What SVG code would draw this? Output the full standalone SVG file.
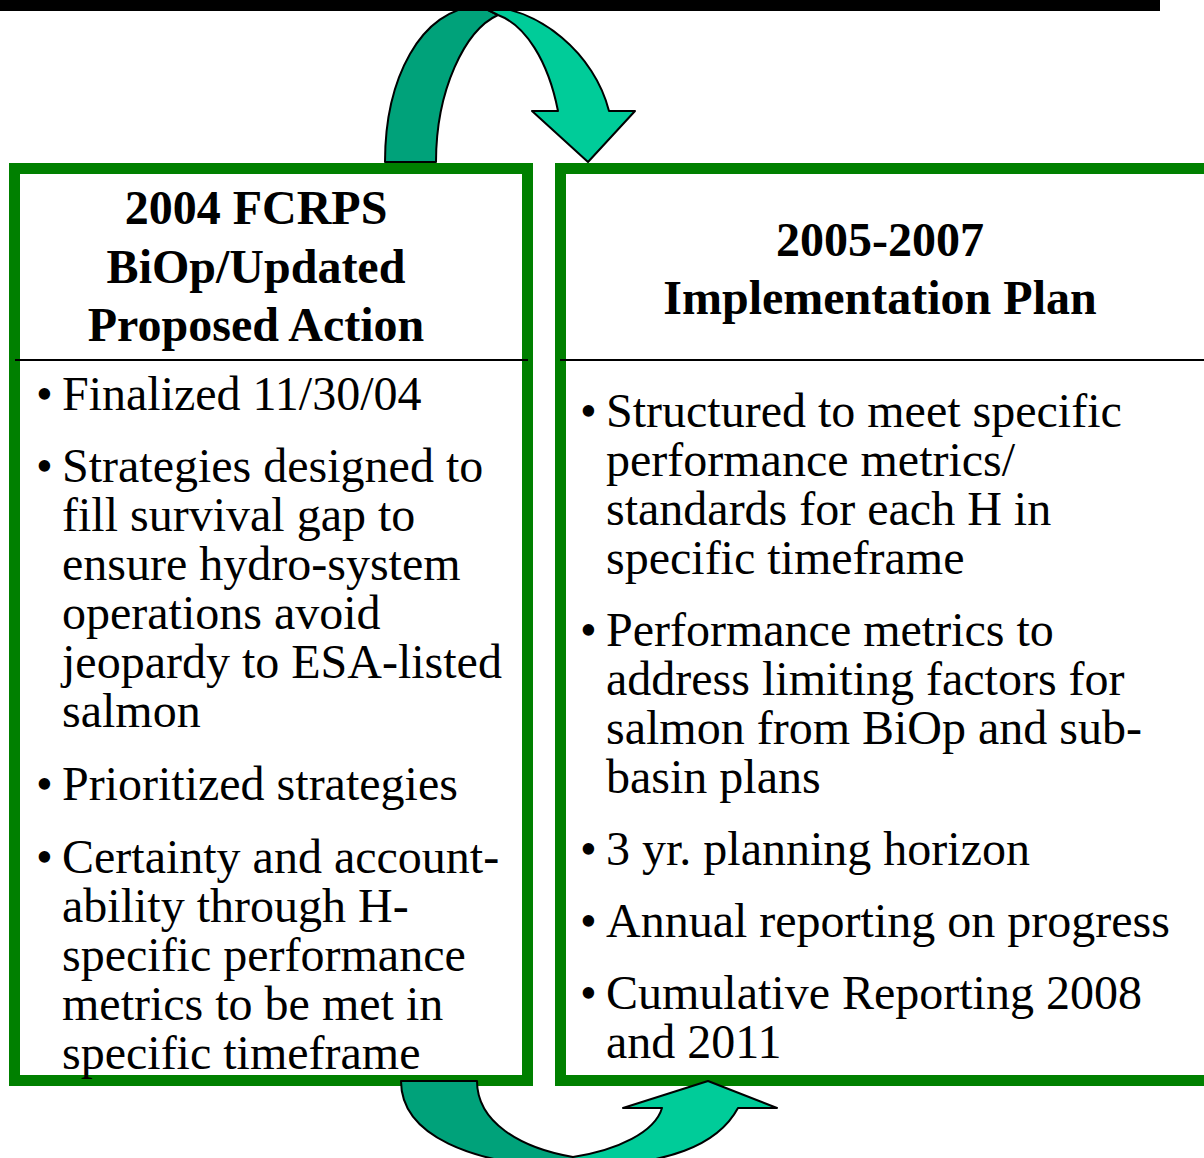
<svg xmlns="http://www.w3.org/2000/svg" width="1204" height="1158" viewBox="0 0 1204 1158">
<style>
.box{fill:#fff;stroke:#008000;stroke-width:11}
.div{stroke:#000;stroke-width:2}
.hd{font-family:"Liberation Serif","Times New Roman",serif;font-weight:bold;font-size:48px;fill:#000;text-anchor:middle}
.bd{font-family:"Liberation Serif","Times New Roman",serif;font-size:48px;fill:#000}
.dk{fill:#00a27a;stroke:#000;stroke-width:2;stroke-linejoin:round}
.lt{fill:#00cc99;stroke:#000;stroke-width:2;stroke-linejoin:round}
</style>
<rect x="0" y="0" width="1204" height="1158" fill="#fff"/>
<g id="left-box">
<rect class="box" x="14.5" y="168.5" width="513" height="912"/>
<line class="div" x1="15" y1="360" x2="528" y2="360"/>
<text class="hd" x="256" y="224">2004 FCRPS</text>
<text class="hd" x="256" y="283">BiOp/Updated</text>
<text class="hd" x="256" y="341">Proposed Action</text>
<text class="bd" x="36" y="410">•</text><text class="bd" x="62" y="410">Finalized 11/30/04</text>
<text class="bd" x="36" y="482">•</text>
<text class="bd" x="62" y="482">Strategies designed to</text>
<text class="bd" x="62" y="531">fill survival gap to</text>
<text class="bd" x="62" y="580">ensure hydro-system</text>
<text class="bd" x="62" y="629">operations avoid</text>
<text class="bd" x="62" y="678">jeopardy to ESA-listed</text>
<text class="bd" x="62" y="727">salmon</text>
<text class="bd" x="36" y="800">•</text><text class="bd" x="62" y="800">Prioritized strategies</text>
<text class="bd" x="36" y="873">•</text>
<text class="bd" x="62" y="873">Certainty and account-</text>
<text class="bd" x="62" y="922">ability through H-</text>
<text class="bd" x="62" y="971">specific performance</text>
<text class="bd" x="62" y="1020">metrics to be met in</text>
<text class="bd" x="62" y="1069">specific timeframe</text>
</g>
<g id="right-box">
<rect class="box" x="560.5" y="168.5" width="700" height="912"/>
<line class="div" x1="560" y1="360" x2="1204" y2="360"/>
<text class="hd" x="880" y="256">2005-2007</text>
<text class="hd" x="880" y="314">Implementation Plan</text>
<text class="bd" x="580" y="427">•</text>
<text class="bd" x="606" y="427">Structured to meet specific</text>
<text class="bd" x="606" y="476">performance metrics/</text>
<text class="bd" x="606" y="525">standards for each H in</text>
<text class="bd" x="606" y="574">specific timeframe</text>
<text class="bd" x="580" y="646">•</text>
<text class="bd" x="606" y="646">Performance metrics to</text>
<text class="bd" x="606" y="695">address limiting factors for</text>
<text class="bd" x="606" y="744">salmon from BiOp and sub-</text>
<text class="bd" x="606" y="793">basin plans</text>
<text class="bd" x="580" y="865">•</text><text class="bd" x="606" y="865">3 yr. planning horizon</text>
<text class="bd" x="580" y="937">•</text><text class="bd" x="606" y="937">Annual reporting on progress</text>
<text class="bd" x="580" y="1009">•</text>
<text class="bd" x="606" y="1009">Cumulative Reporting 2008</text>
<text class="bd" x="606" y="1058">and 2011</text>
</g>
<g id="connectors">
<path class="dk" d="M385,162 C385,80 420,8 480,6 L498,15 C465,30 436,90 436,162 Z"/>
<path class="lt" d="M480,6 C540,6 595,55 609,111 L635,111 L588,162 L532,111 L558,111 C548,60 525,25 498,15 Z"/>
<path class="dk" d="M401,1081 C401,1135 470,1165 573,1168 L573,1157 C520,1148 477,1122 477,1081 Z"/>
<path class="lt" d="M573,1157 C618,1150 655,1132 662,1108 L623,1108 L708,1081 L777,1108 L738,1108 C718,1145 670,1165 573,1168 Z"/>
</g>
<rect x="0" y="0" width="1160" height="11" fill="#000"/>
</svg>
